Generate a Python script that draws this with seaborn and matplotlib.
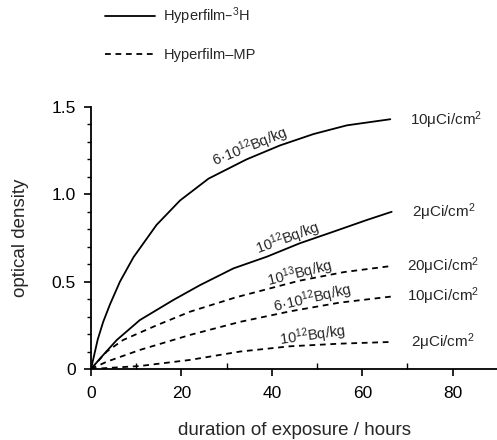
import matplotlib
matplotlib.use("Agg")
import matplotlib.pyplot as plt
from matplotlib.ticker import MultipleLocator
import seaborn as sns
import pandas as pd

# ---- data ----
h3_10_x = [0, 1.5, 2.7, 4.2, 6.4, 9.4, 14.5, 19.7, 26.0, 34.4, 41.8, 49.2, 56.6, 66.2]
h3_10_y = [0, 0.17, 0.27, 0.37, 0.50, 0.64, 0.825, 0.965, 1.09, 1.20, 1.28, 1.345, 1.395, 1.43]

h3_2_x = [0, 2.0, 5.7, 10.8, 18.2, 24.1, 31.5, 38.9, 46.2, 53.6, 61.0, 66.5]
h3_2_y = [0, 0.06, 0.166, 0.28, 0.395, 0.48, 0.576, 0.643, 0.72, 0.786, 0.853, 0.90]

mp_20_x = [0, 3.5, 7.1, 14.5, 21.9, 32.0, 46.0, 56.0, 66.5]
mp_20_y = [0, 0.10, 0.166, 0.25, 0.328, 0.41, 0.505, 0.555, 0.59]

mp_10_x = [0, 3.5, 10.8, 21.9, 33.0, 44.0, 55.0, 66.5]
mp_10_y = [0, 0.042, 0.109, 0.195, 0.27, 0.33, 0.38, 0.415]

mp_2_x = [0, 10.8, 21.9, 33.0, 44.0, 55.0, 66.5]
mp_2_y = [0, 0.017, 0.052, 0.10, 0.13, 0.145, 0.155]

films = ["Hyperfilm–$^3$H", "Hyperfilm–MP"]
curve_labels = ["6·10$^{12}$Bq/kg", "10$^{12}$Bq/kg", "10$^{13}$Bq/kg",
                "6·10$^{12}$Bq/kg", "10$^{12}$Bq/kg"]
end_labels = ["10μCi/cm$^2$", "2μCi/cm$^2$", "20μCi/cm$^2$",
              "10μCi/cm$^2$", "2μCi/cm$^2$"]
x_ticks = [0, 20, 40, 60, 80]
y_ticks = [0, 0.5, 1.0, 1.5]
y_ticklabels = ["0", "0.5", "1.0", "1.5"]

series = [
    ("a", films[0], h3_10_x, h3_10_y),
    ("b", films[0], h3_2_x, h3_2_y),
    ("c", films[1], mp_20_x, mp_20_y),
    ("d", films[1], mp_10_x, mp_10_y),
    ("e", films[1], mp_2_x, mp_2_y),
]
rows = []
for sid, film, xs, ys in series:
    for xv, yv in zip(xs, ys):
        rows.append({"id": sid, "film": film, "hours": xv, "od": yv})
df = pd.DataFrame(rows)

# ---- styling ----
sns.set_theme(style="ticks")
plt.rcParams["font.family"] = ["Liberation Sans", "DejaVu Sans"]
plt.rcParams["mathtext.default"] = "regular"

fig = plt.figure(figsize=(4.97, 4.40), dpi=100)
ax = fig.add_axes([91 / 497, 1 - 369 / 440, 1 - 91 / 497, (369 - 107) / 440])

sns.lineplot(data=df, x="hours", y="od", units="id", style="film",
             style_order=films, estimator=None, color="black", lw=1.3,
             dashes={films[0]: "", films[1]: (3.2, 2.6)}, ax=ax, sort=False)

ax.set_xlim(0, 89.8)
ax.set_ylim(0, 1.5)
ax.set_xticks(x_ticks)
ax.set_yticks(y_ticks)
ax.set_yticklabels(y_ticklabels)
ax.xaxis.set_minor_locator(MultipleLocator(10))
ax.yaxis.set_minor_locator(MultipleLocator(0.1))
for s in ["top", "right"]:
    ax.spines[s].set_visible(False)
for s in ["left", "bottom"]:
    ax.spines[s].set_linewidth(1.3)
    ax.spines[s].set_color("black")
ax.tick_params(axis="both", which="major", length=5, width=1.2, colors="black",
               labelsize=12.5, direction="out")
ax.tick_params(axis="y", which="major", pad=6)
ax.tick_params(axis="x", which="major", pad=7)
ax.tick_params(axis="x", which="minor", length=4, width=1.0, direction="in", colors="black")
ax.tick_params(axis="y", which="minor", length=3, width=1.0, direction="out", colors="black")
ax.set_xlabel("duration of exposure / hours", fontsize=13.5, labelpad=15)
ax.set_ylabel("optical density", fontsize=13.5, labelpad=16)

# curve labels
lab_pos = [(35.2, 1.27, 22), (43.4, 0.745, 20), (46.2, 0.545, 14),
           (49.0, 0.405, 13), (49.0, 0.19, 8)]
for (lx, ly, rot), t in zip(lab_pos, curve_labels):
    ax.text(lx, ly, t, rotation=rot, ha="center", va="center", fontsize=10.5,
            rotation_mode="anchor")

# end labels
end_pos = [(70.5, 1.425), (71.0, 0.90), (70.0, 0.59), (70.0, 0.415), (70.8, 0.155)]
for (ex, ey), t in zip(end_pos, end_labels):
    ax.text(ex, ey, t, ha="left", va="center", fontsize=11, clip_on=False)

sns.move_legend(ax, loc="upper left", bbox_to_anchor=(92 / 497, 1.0 + 8 / 440),
                bbox_transform=fig.transFigure, frameon=False, title=None,
                fontsize=10.5, handlelength=3.4, handletextpad=0.6, labelspacing=1.45)

fig.savefig("out.png", dpi=100)
